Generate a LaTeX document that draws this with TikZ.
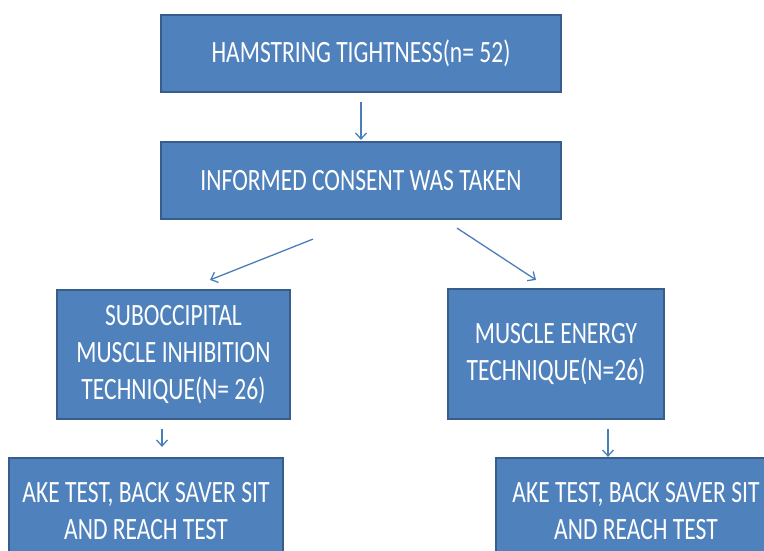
\documentclass[tikz,border=0pt]{standalone}
\usepackage{fontspec}
\setmainfont{Carlito}[FakeStretch=0.76]
\usetikzlibrary{arrows.meta,calc,positioning}
\definecolor{boxfill}{HTML}{4F81BD}
\definecolor{boxline}{HTML}{385D8A}
\definecolor{arrline}{HTML}{4A7EBB}

\begin{document}
\begin{tikzpicture}[x=1pt,y=-1pt,
		flowbox/.style = {draw=boxline, line width=2.2pt, fill=boxfill, text=white,
			align=center, inner sep=0pt, font=\fontsize{31}{37}\selectfont},
		flowarr/.style = {draw=arrline, line width=1.3pt,
			-{Straight Barb[length=6pt,width=11pt,line width=1.3pt]}}]
		\clip (0,0) rectangle (764,550);
		\fill[white] (0,0) rectangle (764,550);
		
		\node[flowbox, minimum width=400pt, minimum height=77pt] (ham) at (361,53.5) {HAMSTRING TIGHTNESS(n= 52)};
		\node[flowbox, minimum width=400pt, minimum height=77pt] (consent) at (361,180.5) {INFORMED CONSENT WAS TAKEN};
		\node[flowbox, minimum width=233pt, minimum height=129pt] (smit) at (173.5,354.5) {SUBOCCIPITAL\\MUSCLE INHIBITION\\TECHNIQUE(N= 26)};
		\node[flowbox, minimum width=216pt, minimum height=130pt] (met) at (556,354) {MUSCLE ENERGY\\TECHNIQUE(N=26)};
		\node[flowbox, minimum width=274pt, minimum height=106pt] (testL) at (146,511) {AKE TEST, BACK SAVER SIT\\AND REACH TEST};
		\node[flowbox, minimum width=280pt, minimum height=106pt] (testR) at (636,511) {AKE TEST, BACK SAVER SIT\\AND REACH TEST};
		
		\coordinate (sL) at ($(consent.south)+(-48,19)$);
		\coordinate (eL) at ($(smit.north)+(36.5,-9)$);
		\coordinate (sR) at ($(consent.south)+(96,8)$);
		\coordinate (eR) at ($(met.north)+(-20,-8)$);
		\coordinate (sL2) at ($(smit.south)+(-11.5,9)$);
		\coordinate (eL2) at ($(testL.north)+(16,-10)$);
		\coordinate (sR2) at ($(met.south)+(52,9)$);
		\coordinate (eR2) at ($(testR.north)+(-28,0)$);
		
		\draw[flowarr, shorten <=9pt, shorten >=1pt] (ham) -- (consent);
		\draw[flowarr] (sL) -- (eL);
		\draw[flowarr] (sR) -- (eR);
		\draw[flowarr] (sL2) -- (eL2);
		\draw[flowarr] (sR2) -- (eR2);
	\end{tikzpicture}
\end{document}
